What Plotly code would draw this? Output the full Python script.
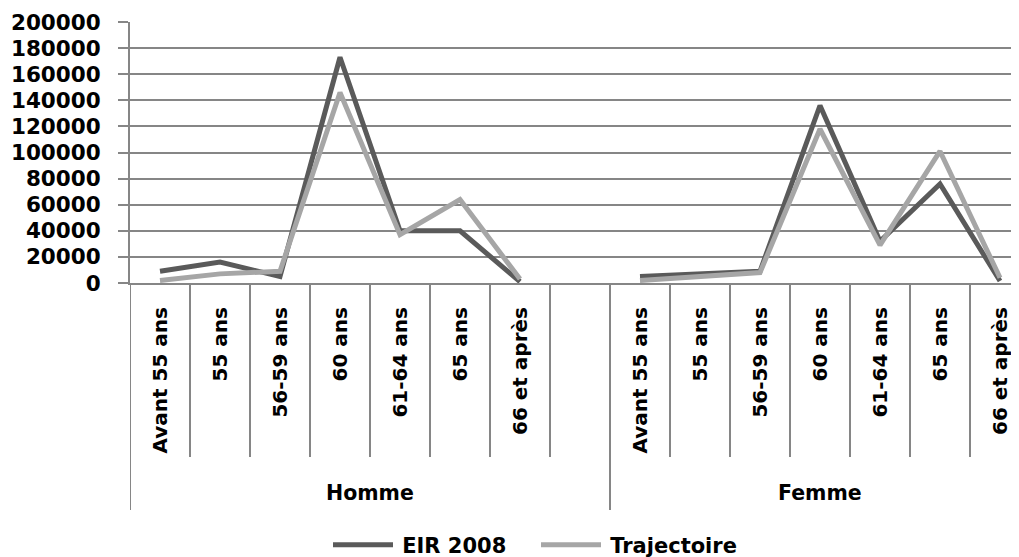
import plotly.graph_objects as go

age_groups = ["Avant 55 ans", "55 ans", "56-59 ans", "60 ans", "61-64 ans", "65 ans", "66 et après"]
sexes = ["Homme", "Femme"]

eir_homme = [9000, 16000, 5000, 173000, 40000, 40000, 1000]
eir_femme = [5000, 7000, 9000, 136000, 32000, 76000, 1500]
traj_homme = [2000, 7000, 9000, 146000, 37000, 64000, 3000]
traj_femme = [2000, 5000, 8000, 118000, 29000, 101000, 4000]

y_ticks = list(range(0, 200001, 20000))

# positions: Homme 0..6, empty slot 7, Femme 8..14
n = len(age_groups)
x_h = list(range(n))
x_f = [n + 1 + i for i in range(n)]
x_all = x_h + [n] + x_f

eir = eir_homme + [None] + eir_femme
traj = traj_homme + [None] + traj_femme

FONT = "DejaVu Sans"
GRID = "#868686"
OFF = 8  # default page body margin
W, H = 1019 - OFF, 557 - OFF

def b(s):
    return "<b>" + s + "</b>"

fig = go.Figure()
fig.add_trace(go.Scatter(x=x_all, y=eir, mode="lines", name=b("\u2009EIR 2008"),
                         line=dict(color="#5a5a5a", width=5), connectgaps=False))
fig.add_trace(go.Scatter(x=x_all, y=traj, mode="lines", name=b("\u2009Trajectoire"),
                         line=dict(color="#a6a6a6", width=5), connectgaps=False))

# screen coordinates of the plot area
plot_left, plot_right = 130, 1018
plot_top, plot_bot = 22, 283
ph = plot_bot - plot_top
pw = plot_right - plot_left

def paper_y(px):
    return (plot_bot - px) / ph

def paper_x(px):
    return (px - plot_left) / pw

# category separators
shapes = []
for i in range(2 * n + 2):
    xv = i - 0.5
    long_line = (i == 0 or i == n + 1 or i == 2 * n + 1)
    shapes.append(dict(type="line", xref="x", yref="paper", x0=xv, x1=xv,
                       y0=0, y1=paper_y(510 if long_line else 457),
                       line=dict(color=GRID, width=2)))

annotations = []
group_centers = [(-0.5 + n + 0.5) / 2, (n + 0.5 + 2 * n + 0.5) / 2]
for sx, cx in zip(sexes, group_centers):
    annotations.append(dict(x=cx, y=paper_y(493), xref="x", yref="paper", text=b(sx),
                            showarrow=False, font=dict(family=FONT, size=20.5, color="#000"),
                            xanchor="center", yanchor="middle"))

fig.update_layout(
    width=W, height=H,
    margin=dict(l=plot_left - OFF, r=W - (plot_right - OFF), t=plot_top - OFF,
                b=H - (plot_bot - OFF), autoexpand=False),
    paper_bgcolor="white", plot_bgcolor="white",
    font=dict(family=FONT, size=21, color="#000"),
    shapes=shapes, annotations=annotations,
    legend=dict(orientation="h", x=paper_x(328), xanchor="left", y=paper_y(545), yanchor="middle",
                font=dict(family=FONT, size=21), itemwidth=60, traceorder="normal",
                entrywidth=133, entrywidthmode="pixels"),
    showlegend=True,
)
fig.update_xaxes(range=[-0.5, 14.3], tickmode="array", tickvals=x_h + x_f,
                 ticktext=[b(a) for a in age_groups + age_groups], tickangle=-90, showgrid=False,
                 zeroline=False, showline=True, linecolor=GRID, linewidth=2,
                 ticks="", tickfont=dict(family=FONT, size=20), automargin=False,
                 ticklabelstandoff=14)
fig.update_yaxes(range=[0, 200000], tickmode="array", tickvals=y_ticks,
                 ticktext=[b(str(v)) for v in y_ticks], showgrid=True, gridcolor=GRID,
                 gridwidth=2, zeroline=False, showline=True, linecolor=GRID, linewidth=2,
                 ticks="outside", ticklen=10, tickcolor=GRID, tickwidth=2,
                 tickfont=dict(family=FONT, size=21.5), automargin=False,
                 ticklabelstandoff=13)

fig.write_html("out.html")
